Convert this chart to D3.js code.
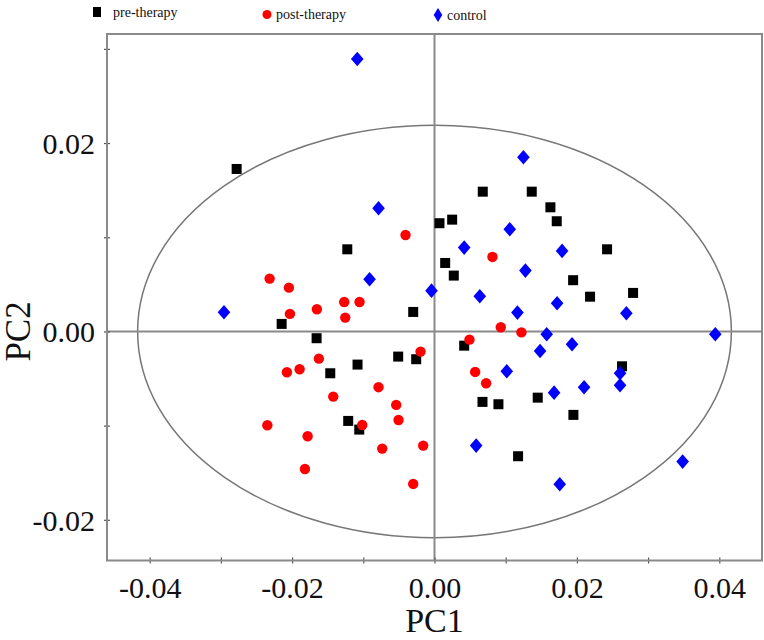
<!DOCTYPE html>
<html><head><meta charset="utf-8">
<script src="https://cdn.jsdelivr.net/npm/d3@7"></script>
<style>body{margin:0;background:#fff}svg{display:block}text{font-family:"Liberation Serif","Times New Roman",serif}</style>
</head><body><svg id="c" width="764" height="640"></svg>
<script>
const seriesNames = ["pre-therapy", "post-therapy", "control"];
const seriesColors = ["#000000", "#ff0000", "#0000ff"];
const preTherapy = [
  [-0.02779, 0.01725], [-0.01225, 0.00872], [-0.00299, 0.00207], [-0.02147, 0.0008],
  [0.00678, 0.01484], [0.01366, 0.01484], [0.01628, 0.01318], [0.01717, 0.0117],
  [0.0007, 0.01149], [0.00248, 0.01187], [0.02424, 0.00872], [0.0015, 0.00727],
  [0.00271, 0.00593], [0.01947, 0.00544], [0.02185, 0.00369], [0.02789, 0.00409],
  [0.00417, -0.00151], [0.02634, -0.0037], [0.00674, -0.00748], [0.00898, -0.00773],
  [0.0145, -0.00703], [0.01951, -0.00886], [0.01174, -0.01325], [-0.01656, -0.00072],
  [-0.01464, -0.00444], [-0.01081, -0.00352], [-0.0051, -0.00267], [-0.00257, -0.00295],
  [-0.01212, -0.0095], [-0.01057, -0.01042]
];
const postTherapy = [
  [-0.00407, 0.01024], [-0.02316, 0.00561], [-0.02045, 0.00465], [-0.01268, 0.00313],
  [-0.01053, 0.00313], [-0.01652, 0.00236], [-0.02031, 0.00186], [-0.01254, 0.00147],
  [0.00814, 0.00791], [0.00931, 0.00045], [0.01221, -0.0001], [0.00491, -0.00087],
  [0.00571, -0.0043], [0.00725, -0.0055], [-0.01624, -0.00289], [-0.02073, -0.00433],
  [-0.01895, -0.00401], [-0.00196, -0.00214], [-0.00786, -0.00592], [-0.01422, -0.00692],
  [-0.00538, -0.0078], [-0.00505, -0.0094], [-0.01015, -0.00993], [-0.02348, -0.00996],
  [-0.01782, -0.01113], [-0.00734, -0.01244], [-0.00159, -0.01212], [-0.0182, -0.0146],
  [-0.00299, -0.01619]
];
const control = [
  [-0.01085, 0.02893], [-0.00786, 0.01308], [-0.00912, 0.00554], [-0.00042, 0.00433],
  [-0.02957, 0.00204], [0.01249, 0.01849], [0.01057, 0.01085], [0.00417, 0.0089],
  [0.01792, 0.00855], [0.01277, 0.00646], [0.00636, 0.00374], [0.01722, 0.00299],
  [0.01165, 0.002], [0.02695, 0.00193], [0.01576, -0.0003], [0.03944, -0.0003],
  [0.01483, -0.00207], [0.01932, -0.00136], [0.01015, -0.00423], [0.02606, -0.00444],
  [0.02606, -0.00571], [0.02101, -0.00592], [0.0168, -0.0065], [0.00585, -0.01212],
  [0.01759, -0.01622], [0.03485, -0.01382]
];
const xDomain = [-0.046, 0.046];
const yDomain = [-0.02432, 0.03158];
const xTicks = [-0.04, -0.03, -0.02, -0.01, 0, 0.01, 0.02, 0.03, 0.04];
const xTickLabels = ["-0.04", "", "-0.02", "", "0.00", "", "0.02", "", "0.04"];
const yTicks = [-0.02, -0.01, 0, 0.01, 0.02, 0.03];
const yTickLabels = ["-0.02", "", "0.00", "", "0.02", ""];
const ellipseRadii = [0.0417, 0.0219];
const xTitle = "PC1", yTitle = "PC2";

const svg = d3.select("#c");
const L = 107, R = 762, T = 34, B = 560.5;
const x = d3.scaleLinear().domain(xDomain).range([L, R]);
const y = d3.scaleLinear().domain(yDomain).range([B, T]);
const gray = "#8a8a8a";

// ellipse
svg.append("ellipse")
  .attr("cx", x(0)).attr("cy", y(0))
  .attr("rx", x(ellipseRadii[0]) - x(0)).attr("ry", y(0) - y(ellipseRadii[1]))
  .attr("fill", "none").attr("stroke", "#777").attr("stroke-width", 1.5);

// zero lines
svg.append("line").attr("x1", L).attr("x2", R).attr("y1", y(0)).attr("y2", y(0))
  .attr("stroke", gray).attr("stroke-width", 2);
svg.append("line").attr("x1", x(0)).attr("x2", x(0)).attr("y1", T).attr("y2", B)
  .attr("stroke", gray).attr("stroke-width", 2);

// axes
const xAxis = d3.axisBottom(x).tickValues(xTicks).tickSize(3)
  .tickFormat((d, i) => xTickLabels[i]);
const gx = svg.append("g").attr("transform", `translate(0,${B})`).call(xAxis);
gx.selectAll(".tick line").attr("y1", -3).attr("stroke", "#555").attr("stroke-width", 1.2);
gx.selectAll(".tick text").attr("font-size", 30).attr("fill", "#111").attr("dy", 0).attr("y", 37)
  .attr("font-family", "Liberation Serif");
gx.select(".domain").remove();

const yAxis = d3.axisLeft(y).tickValues(yTicks).tickSize(3)
  .tickFormat((d, i) => yTickLabels[i]);
const gy = svg.append("g").attr("transform", `translate(${L},0)`).call(yAxis);
gy.selectAll(".tick line").attr("x1", 3).attr("stroke", "#555").attr("stroke-width", 1.2);
gy.selectAll(".tick text").attr("font-size", 30).attr("fill", "#111").attr("x", -12)
  .attr("dy", "0.34em").attr("font-family", "Liberation Serif");
gy.select(".domain").remove();

// frame
svg.append("rect").attr("x", L).attr("y", T).attr("width", R - L).attr("height", B - T)
  .attr("fill", "none").attr("stroke", gray).attr("stroke-width", 2);

// titles
svg.append("text").attr("x", x(0)).attr("y", 632).attr("text-anchor", "middle")
  .attr("font-size", 34).attr("fill", "#111").text(xTitle);
svg.append("text").attr("transform", `translate(30,${y(0)}) rotate(-90)`).attr("text-anchor", "middle")
  .attr("font-size", 35).attr("fill", "#111").text(yTitle);

// markers
const diamond = (cx, cy, w, h) => `M${cx},${cy - h}L${cx + w},${cy}L${cx},${cy + h}L${cx - w},${cy}Z`;
svg.append("g").selectAll("rect").data(preTherapy).join("rect")
  .attr("x", d => x(d[0]) - 5).attr("y", d => y(d[1]) - 5)
  .attr("width", 10).attr("height", 10).attr("fill", seriesColors[0]);
svg.append("g").selectAll("circle").data(postTherapy).join("circle")
  .attr("cx", d => x(d[0])).attr("cy", d => y(d[1])).attr("r", 5.2).attr("fill", seriesColors[1]);
svg.append("g").selectAll("path").data(control).join("path")
  .attr("d", d => diamond(x(d[0]), y(d[1]), 6.3, 7.3)).attr("fill", seriesColors[2]);

// legend
const legendX = [97, 267, 438];
const lg = svg.append("g");
lg.append("rect").attr("x", legendX[0] - 4).attr("y", 7).attr("width", 8).attr("height", 10).attr("fill", seriesColors[0]);
lg.append("circle").attr("cx", legendX[1]).attr("cy", 14.5).attr("r", 4.5).attr("fill", seriesColors[1]);
lg.append("path").attr("d", diamond(legendX[2], 15, 4.3, 7)).attr("fill", seriesColors[2]);
const textOff = [16, 9, 9];
const textY = [17, 19, 20];
seriesNames.forEach((n, i) => {
  lg.append("text").attr("x", legendX[i] + textOff[i]).attr("y", textY[i])
    .attr("font-size", 14).attr("fill", "#111").text(n);
});
</script></body></html>
